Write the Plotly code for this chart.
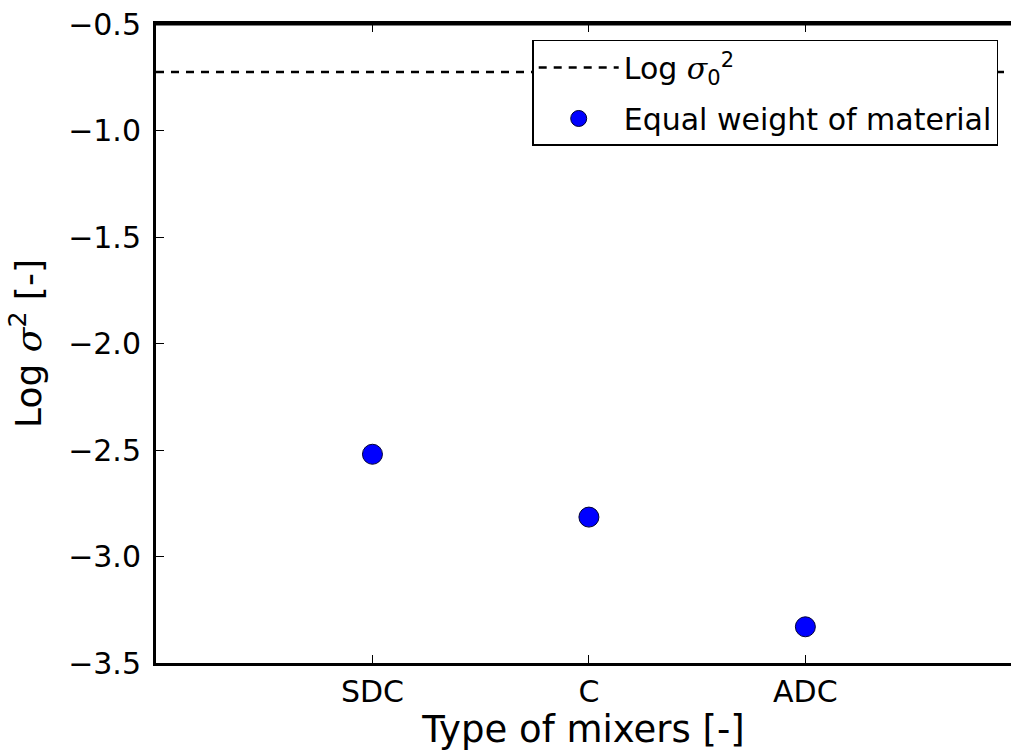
import plotly.graph_objects as go

categories = ["SDC", "C", "ADC"]
cat_pos = [1, 2, 3]
log_sigma2 = [-2.52, -2.815, -3.33]
log_sigma0_sq = -0.725

x_range = [0, 3.95]
y_range = [-3.5, -0.5]
y_ticks = [-3.5, -3.0, -2.5, -2.0, -1.5, -1.0, -0.5]

SIG = "<span style=\"font-family:'DejaVu Serif'\"><i>σ</i></span>"

fig = go.Figure()
fig.add_trace(go.Scatter(
    x=x_range, y=[log_sigma0_sq, log_sigma0_sq], mode="lines",
    line=dict(color="black", width=2.5, dash="8px,7px"),
    name=f"Log {SIG}<sub>0</sub><sup>2</sup>", legendgroup="a",
))
fig.add_trace(go.Scatter(
    x=cat_pos, y=log_sigma2, mode="markers",
    marker=dict(color="#0000ff", size=20, line=dict(color="#000033", width=1)),
    name="Equal weight of material", legendgroup="b",
))

font = "DejaVu Sans"
fig.update_layout(
    width=1011, height=751,
    margin=dict(l=156, r=0, t=24, b=88),
    paper_bgcolor="white", plot_bgcolor="white",
    font=dict(family=font, color="black", size=30),
    showlegend=True,
    legend=dict(
        x=0.44, y=0.975, xanchor="left", yanchor="top",
        bordercolor="black", borderwidth=1.5, bgcolor="white",
        font=dict(size=30, family=font), itemwidth=80,
        traceorder="grouped", tracegroupgap=9,
    ),
    xaxis=dict(
        range=x_range, tickvals=cat_pos, ticktext=categories,
        showline=True, linecolor="black", linewidth=3, mirror="ticks",
        ticks="inside", ticklen=8, tickwidth=1, tickcolor="black",
        showgrid=False, zeroline=False,
        title=dict(text="Type of mixers [-]", font=dict(size=37), standoff=4),
        tickfont=dict(size=30), ticklabelstandoff=0,
    ),
    yaxis=dict(
        range=y_range, tickvals=y_ticks,
        ticktext=[f"\u2212{abs(v):.1f}" for v in y_ticks],
        showline=True, linecolor="black", linewidth=3, mirror=False,
        ticks="inside", ticklen=8, tickwidth=1, tickcolor="black",
        showgrid=False, zeroline=False,
        title=dict(text=f"Log {SIG}<sup>2</sup> [-]", font=dict(size=36), standoff=16),
        tickfont=dict(size=30), ticklabelstandoff=6,
    ),
)
fig.add_shape(type="line", xref="paper", yref="paper", x0=0, x1=1, y0=1, y1=1,
              line=dict(color="black", width=3))
fig.write_html("out.html")
